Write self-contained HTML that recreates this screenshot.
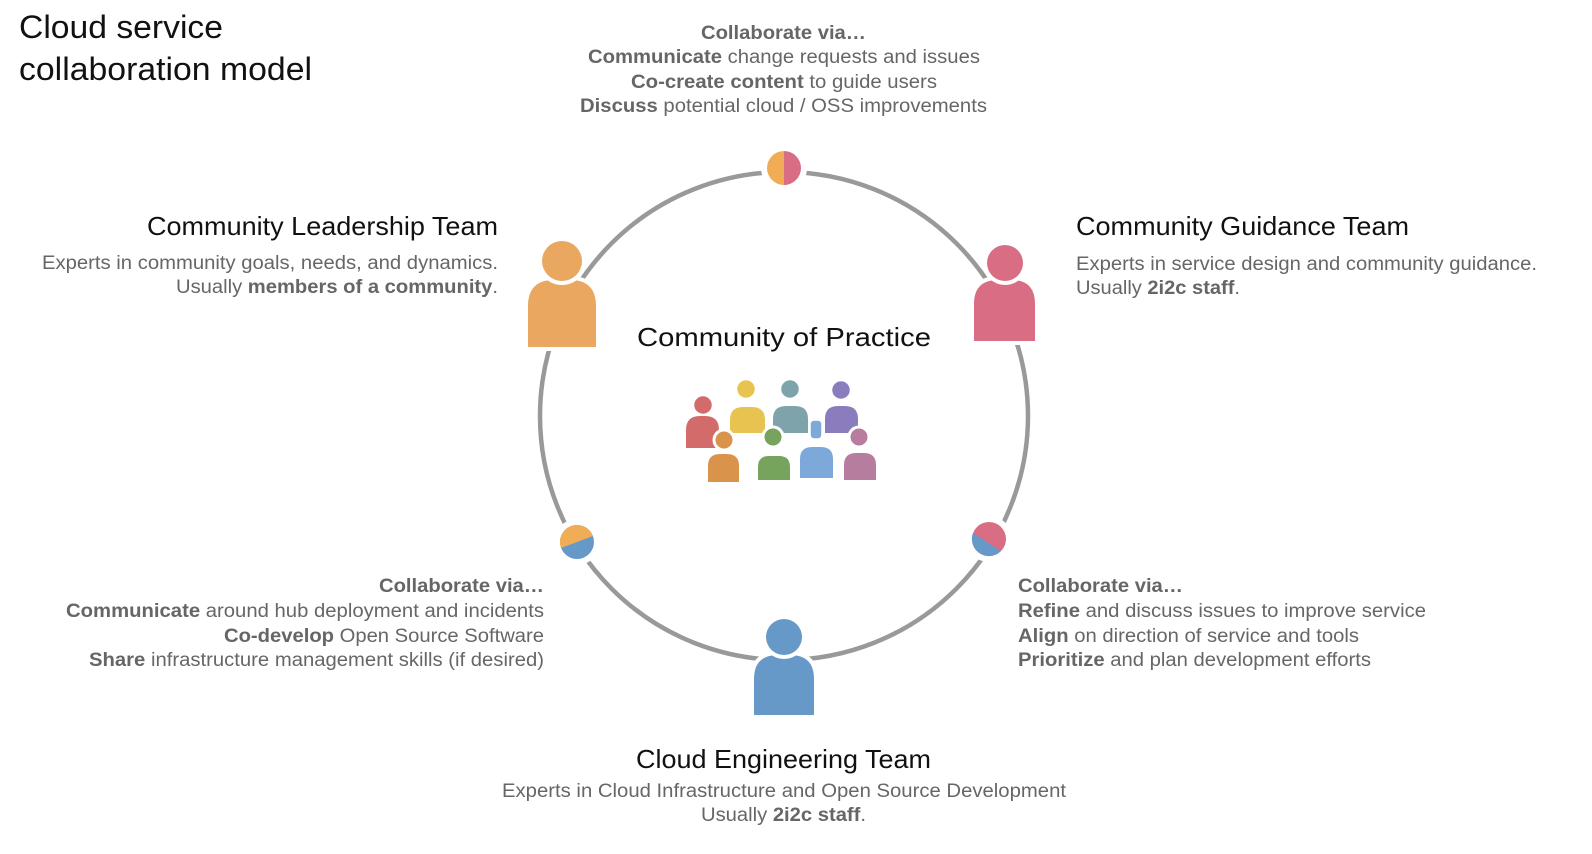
<!DOCTYPE html>
<html><head><meta charset="utf-8"><style>
body{margin:0;background:#fff;width:1592px;height:854px;overflow:hidden;font-family:"Liberation Sans",sans-serif}
svg{position:absolute;left:0;top:0}
text{font-family:"Liberation Sans",sans-serif}
.h{font-size:26px;fill:#111}
.d{font-size:19px;fill:#666}
.b{font-weight:bold}
.o{stroke:#fff;stroke-width:8;paint-order:stroke}
</style></head><body>
<svg width="1592" height="854">
<text x="19" y="38" font-size="32" fill="#111" textLength="204" lengthAdjust="spacingAndGlyphs">Cloud service</text>
<text x="19" y="80" font-size="32" fill="#111" textLength="293" lengthAdjust="spacingAndGlyphs">collaboration model</text>

<circle cx="784" cy="416" r="244" fill="none" stroke="#999" stroke-width="4.5"/>

<g>
<circle cx="784" cy="168" r="23" fill="#fff"/>
<path d="M784 151 A17 17 0 0 0 784 185Z" fill="#f0ad55"/><path d="M784 151 A17 17 0 0 1 784 185Z" fill="#d86d83"/></g>
<g>
<circle cx="577" cy="542" r="23" fill="#fff"/>
<circle cx="577" cy="542" r="17" fill="#6699c8"/>
<path d="M561 548 A17 17 0 0 1 593 536Z" fill="#f0ad55"/></g>
<g>
<circle cx="989" cy="539" r="23" fill="#fff"/>
<circle cx="989" cy="539" r="17" fill="#d86d83"/>
<path d="M973 533 A17 17 0 0 0 1001 551Z" fill="#6699c8"/></g>

<g>
<path class="o" d="M528 347 V306 Q528 280 554 280 H570 Q596 280 596 306 V347Z" fill="#e9a75f"/>
<circle class="o" cx="562" cy="261" r="20" fill="#e9a75f"/></g>
<g>
<path class="o" d="M974 341 V304 Q974 280 998 280 H1012 Q1035 280 1035 304 V341Z" fill="#d86d83"/>
<circle class="o" cx="1005" cy="263" r="18" fill="#d86d83"/></g>
<g>
<path class="o" d="M754 715 V679 Q754 655 778 655 H790 Q814 655 814 679 V715Z" fill="#6699c8"/>
<circle class="o" cx="784" cy="637" r="18" fill="#6699c8"/></g>

<g>
<path d="M686 448 V430 Q686 416 700 416 H705 Q719 416 719 430 V448Z" fill="#d36b6a"/><circle cx="703" cy="405" r="9.5" fill="#d36b6a" stroke="#fff" stroke-width="1.5"/>
<path d="M730 433 V420 Q730 407 743 407 H752 Q765 407 765 420 V433Z" fill="#e8c350"/><circle cx="746" cy="389" r="9.5" fill="#e8c350" stroke="#fff" stroke-width="1.5"/>
<path d="M773 433 V419 Q773 406 786 406 H795 Q808 406 808 419 V433Z" fill="#7ea3ab"/><circle cx="790" cy="389" r="9.5" fill="#7ea3ab" stroke="#fff" stroke-width="1.5"/>
<path d="M825 433 V419 Q825 406 838 406 H845 Q858 406 858 419 V433Z" fill="#8b7dbd"/><circle cx="841" cy="390" r="9.5" fill="#8b7dbd" stroke="#fff" stroke-width="1.5"/>
<path d="M707 483 V466 Q707 453 720 453 H727 Q740 453 740 466 V483Z" fill="#d9934b" stroke="#fff" stroke-width="2"/><circle cx="724" cy="440" r="10" fill="#d9934b" stroke="#fff" stroke-width="3"/>
<path d="M757 481 V467 Q757 455 769 455 H779 Q791 455 791 467 V481Z" fill="#76a45c" stroke="#fff" stroke-width="2"/><circle cx="773" cy="437" r="10" fill="#76a45c" stroke="#fff" stroke-width="3"/>
<path d="M799 479 V459 Q799 446 812 446 H821 Q834 446 834 459 V479Z" fill="#7da8da" stroke="#fff" stroke-width="2"/><rect x="810" y="420" width="12" height="19" rx="4" fill="#7da8da" stroke="#fff" stroke-width="1.5"/>
<path d="M843 481 V465 Q843 452 856 452 H864 Q877 452 877 465 V481Z" fill="#b77d9e" stroke="#fff" stroke-width="2"/><circle cx="859" cy="437" r="10" fill="#b77d9e" stroke="#fff" stroke-width="3"/>
</g>

<text x="637" y="346" class="h" font-size="27" textLength="294" lengthAdjust="spacingAndGlyphs">Community of Practice</text>

<g>
<text x="701" y="39" class="d b" textLength="165" lengthAdjust="spacingAndGlyphs">Collaborate via…</text>
<text x="588" y="63" class="d" textLength="392" lengthAdjust="spacingAndGlyphs"><tspan class="b">Communicate</tspan> change requests and issues</text>
<text x="631" y="88" class="d" textLength="306" lengthAdjust="spacingAndGlyphs"><tspan class="b">Co-create content</tspan> to guide users</text>
<text x="580" y="112" class="d" textLength="407" lengthAdjust="spacingAndGlyphs"><tspan class="b">Discuss</tspan> potential cloud / OSS improvements</text>
</g>

<g>
<text x="147" y="235" class="h" textLength="351" lengthAdjust="spacingAndGlyphs">Community Leadership Team</text>
<text x="42" y="269" class="d" textLength="456" lengthAdjust="spacingAndGlyphs">Experts in community goals, needs, and dynamics.</text>
<text x="176" y="293" class="d" textLength="322" lengthAdjust="spacingAndGlyphs">Usually <tspan class="b">members of a community</tspan>.</text>
</g>

<g>
<text x="1076" y="235" class="h" textLength="333" lengthAdjust="spacingAndGlyphs">Community Guidance Team</text>
<text x="1076" y="270" class="d" textLength="461" lengthAdjust="spacingAndGlyphs">Experts in service design and community guidance.</text>
<text x="1076" y="294" class="d" textLength="164" lengthAdjust="spacingAndGlyphs">Usually <tspan class="b">2i2c staff</tspan>.</text>
</g>

<g>
<text x="379" y="592" class="d b" textLength="165" lengthAdjust="spacingAndGlyphs">Collaborate via…</text>
<text x="66" y="617" class="d" textLength="478" lengthAdjust="spacingAndGlyphs"><tspan class="b">Communicate</tspan> around hub deployment and incidents</text>
<text x="224" y="642" class="d" textLength="320" lengthAdjust="spacingAndGlyphs"><tspan class="b">Co-develop</tspan> Open Source Software</text>
<text x="89" y="666" class="d" textLength="455" lengthAdjust="spacingAndGlyphs"><tspan class="b">Share</tspan> infrastructure management skills (if desired)</text>
</g>

<g>
<text x="1018" y="592" class="d b" textLength="165" lengthAdjust="spacingAndGlyphs">Collaborate via…</text>
<text x="1018" y="617" class="d" textLength="408" lengthAdjust="spacingAndGlyphs"><tspan class="b">Refine</tspan> and discuss issues to improve service</text>
<text x="1018" y="642" class="d" textLength="341" lengthAdjust="spacingAndGlyphs"><tspan class="b">Align</tspan> on direction of service and tools</text>
<text x="1018" y="666" class="d" textLength="353" lengthAdjust="spacingAndGlyphs"><tspan class="b">Prioritize</tspan> and plan development efforts</text>
</g>

<g>
<text x="636" y="768" class="h" textLength="295" lengthAdjust="spacingAndGlyphs">Cloud Engineering Team</text>
<text x="502" y="797" class="d" textLength="564" lengthAdjust="spacingAndGlyphs">Experts in Cloud Infrastructure and Open Source Development</text>
<text x="701" y="821" class="d" textLength="165" lengthAdjust="spacingAndGlyphs">Usually <tspan class="b">2i2c staff</tspan>.</text>
</g>
</svg>
</body></html>
